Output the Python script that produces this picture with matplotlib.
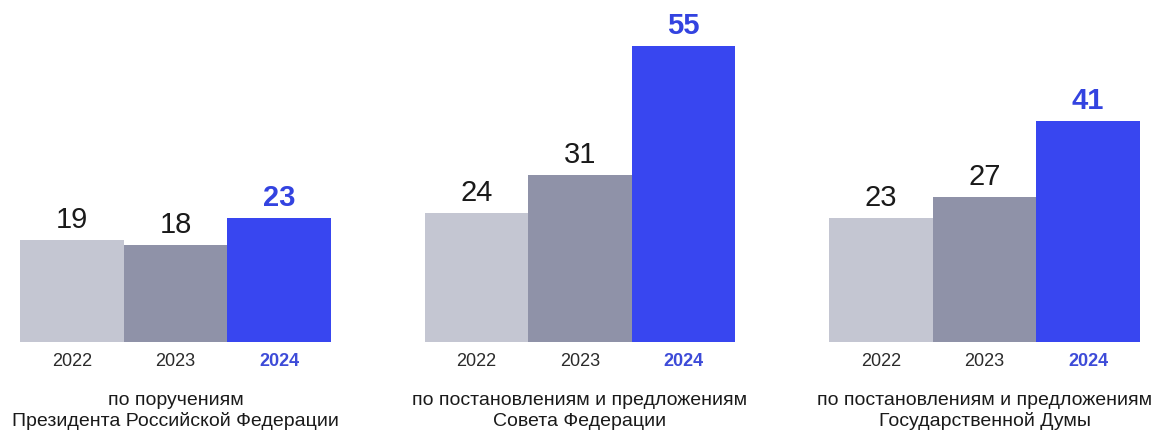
import matplotlib.pyplot as plt

plt.rcParams['font.family'] = ['Liberation Sans', 'DejaVu Sans']

# Data
years = ['2022', '2023', '2024']
president = [19, 18, 23]
federation_council = [24, 31, 55]
state_duma = [23, 27, 41]
captions = [
    ('по поручениям', 'Президента Российской Федерации'),
    ('по постановлениям и предложениям', 'Совета Федерации'),
    ('по постановлениям и предложениям', 'Государственной Думы'),
]

colors = ['#c4c6d2', '#8f92a8', '#3846f0']
label_colors = ['#1a1a1a', '#1a1a1a', '#3343e0']
year_colors = ['#2b2b2b', '#2b2b2b', '#3d4bd8']

W, H = 1155, 430
fig = plt.figure(figsize=(W / 100, H / 100), dpi=100)

baseline = 342          # px from top
px_per_unit = 5.38
panels = [(20, 311), (425, 310), (829, 311)]
series = [president, federation_council, state_duma]

for (left, width), values, cap in zip(panels, series, captions):
    ax = fig.add_axes([left / W, (H - baseline) / H, width / W, baseline / H])
    x = range(len(values))
    ax.bar(x, values, width=1.0, color=colors, linewidth=0)
    ax.set_xlim(-0.5, 2.5)
    ax.set_ylim(0, baseline / px_per_unit)
    ax.axis('off')

    for i, v in enumerate(values):
        ax.annotate(str(v), (i, v), xytext=(0, 8.6), textcoords='offset points',
                    ha='center', va='baseline', fontsize=21,
                    color=label_colors[i],
                    fontweight='bold' if i == 2 else 'normal')
        ax.annotate(years[i], (i, 0), xycoords=('data', 'axes fraction'),
                    xytext=(0, -13.7), textcoords='offset points',
                    ha='center', va='center', fontsize=13,
                    color=year_colors[i],
                    fontweight='bold' if i == 2 else 'normal')

    ax.annotate(cap[0], (1, 0), xycoords=('data', 'axes fraction'),
                xytext=(0, -41.8), textcoords='offset points',
                ha='center', va='center', fontsize=14, color='#1a1a1a',
                annotation_clip=False)
    ax.annotate(cap[1], (1, 0), xycoords=('data', 'axes fraction'),
                xytext=(0, -57), textcoords='offset points',
                ha='center', va='center', fontsize=14, color='#1a1a1a',
                annotation_clip=False)

fig.savefig('out.png', dpi=100)
